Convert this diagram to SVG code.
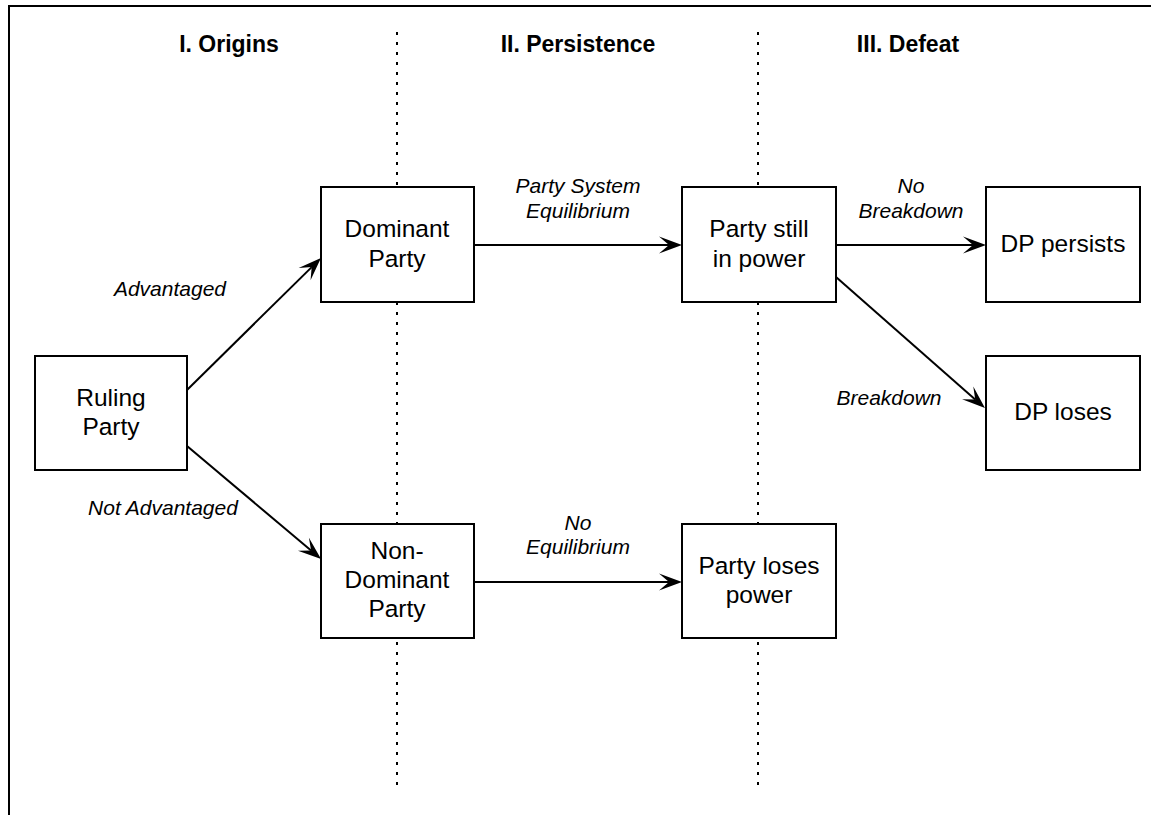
<svg xmlns="http://www.w3.org/2000/svg" width="1151" height="815" viewBox="0 0 1151 815">
  <style>
    .frame { fill: none; stroke: #000; stroke-width: 2; }
    .divider { stroke: #000; stroke-width: 2; stroke-dasharray: 3 7; fill: none; }
    .box { fill: #fff; stroke: #000; stroke-width: 2; }
    .label { font-family: "Liberation Sans", Arial, Helvetica, sans-serif; font-size: 24.5px; fill: #000; text-anchor: middle; }
    .head { font-family: "Liberation Sans", Arial, Helvetica, sans-serif; font-size: 23px; font-weight: bold; fill: #000; text-anchor: middle; }
    .edge-label { font-family: "Liberation Sans", Arial, Helvetica, sans-serif; font-size: 21px; font-style: italic; fill: #000; text-anchor: middle; }
    .edge { stroke: #000; stroke-width: 2; fill: none; marker-end: url(#arrow); }
  </style>
  <defs>
    <marker id="arrow" markerUnits="userSpaceOnUse" viewBox="-12 -10 27 20" refX="0" refY="0" markerWidth="27" markerHeight="20" orient="auto">
      <path d="M13,0 L-10,-8.5 L0,0 L-10,8.5 Z" fill="#000"/>
    </marker>
  </defs>

  <rect width="1151" height="815" fill="#fff"/>
  <rect class="frame" x="9" y="6" width="1160" height="830"/>

  <!-- stage dividers -->
  <g id="dividers">
    <line class="divider" x1="397" y1="32" x2="397" y2="787"/>
    <line class="divider" x1="758" y1="32" x2="758" y2="787"/>
  </g>

  <!-- stage headings -->
  <g id="headings">
    <text class="head" x="229" y="52">I. Origins</text>
    <text class="head" x="578" y="52">II. Persistence</text>
    <text class="head" x="908" y="52">III. Defeat</text>
  </g>

  <!-- connectors -->
  <g id="connectors">
    <line class="edge" x1="187" y1="390" x2="311.7" y2="267.1"/>
    <line class="edge" x1="187" y1="446" x2="311.1" y2="550.6"/>
    <line class="edge" x1="474" y1="245" x2="669" y2="245"/>
    <line class="edge" x1="474" y1="582" x2="669" y2="582"/>
    <line class="edge" x1="836" y1="245" x2="973" y2="245"/>
    <line class="edge" x1="836" y1="277" x2="975.2" y2="399.4"/>
    <text class="edge-label" x="170" y="296">Advantaged</text>
    <text class="edge-label" x="163" y="515">Not Advantaged</text>
    <text class="edge-label" x="578" y="193">Party System</text>
    <text class="edge-label" x="578" y="218">Equilibrium</text>
    <text class="edge-label" x="578" y="530">No</text>
    <text class="edge-label" x="578" y="554">Equilibrium</text>
    <text class="edge-label" x="911" y="193">No</text>
    <text class="edge-label" x="911" y="218">Breakdown</text>
    <text class="edge-label" x="889" y="405">Breakdown</text>
  </g>

  <!-- nodes -->
  <g id="ruling-party">
    <rect class="box" x="35" y="356" width="152" height="114"/>
    <text class="label" x="111" y="406">Ruling</text>
    <text class="label" x="111" y="435">Party</text>
  </g>
  <g id="dominant-party">
    <rect class="box" x="321" y="187" width="153" height="115"/>
    <text class="label" x="397" y="237">Dominant</text>
    <text class="label" x="397" y="267">Party</text>
  </g>
  <g id="non-dominant-party">
    <rect class="box" x="321" y="524" width="153" height="114"/>
    <text class="label" x="397" y="559">Non-</text>
    <text class="label" x="397" y="588">Dominant</text>
    <text class="label" x="397" y="617">Party</text>
  </g>
  <g id="party-still-in-power">
    <rect class="box" x="682" y="187" width="154" height="115"/>
    <text class="label" x="759" y="237">Party still</text>
    <text class="label" x="759" y="267">in power</text>
  </g>
  <g id="party-loses-power">
    <rect class="box" x="682" y="524" width="154" height="114"/>
    <text class="label" x="759" y="574">Party loses</text>
    <text class="label" x="759" y="603">power</text>
  </g>
  <g id="dp-persists">
    <rect class="box" x="986" y="187" width="154" height="115"/>
    <text class="label" x="1063" y="252">DP persists</text>
  </g>
  <g id="dp-loses">
    <rect class="box" x="986" y="356" width="154" height="114"/>
    <text class="label" x="1063" y="420">DP loses</text>
  </g>
</svg>
